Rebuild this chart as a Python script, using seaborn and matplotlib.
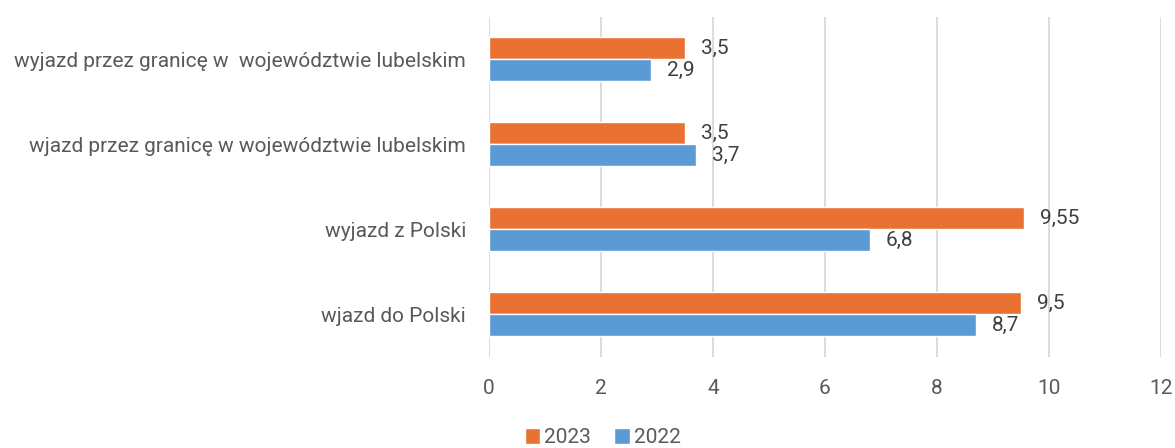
import matplotlib
matplotlib.use("Agg")
import matplotlib.pyplot as plt
import seaborn as sns
import pandas as pd

categories = [
    "wyjazd przez granicę w  województwie lubelskim",
    "wjazd przez granicę w województwie lubelskim",
    "wyjazd z Polski",
    "wjazd do Polski",
]
values_2023 = [3.5, 3.5, 9.55, 9.5]
values_2022 = [2.9, 3.7, 6.8, 8.7]
series = ["2023", "2022"]
x_ticks = [0, 2, 4, 6, 8, 10, 12]

df = pd.DataFrame({
    "kategoria": categories * 2,
    "wartosc": values_2023 + values_2022,
    "rok": [series[0]] * len(categories) + [series[1]] * len(categories),
})

sns.set_theme(style="white")
plt.rcParams["font.family"] = ["Roboto", "DejaVu Sans"]
text_color = "#595959"

fig = plt.figure(figsize=(11.75, 4.48), dpi=100)
ax = fig.add_axes([0.416, 0.204, 0.572, 0.759])

sns.barplot(
    data=df, y="kategoria", x="wartosc", hue="rok", hue_order=series,
    order=categories, orient="h", palette=["#E97132", "#5B9BD5"],
    width=0.52, ax=ax, legend=True, saturation=1,
)

for container in ax.containers:
    vals = container.datavalues
    ax.bar_label(container, labels=[f"{v:g}".replace(".", ",") for v in vals],
                 padding=11.5, fontsize=15, color="#404040")

ax.set_xlim(0, 12)
ax.set_xticks(x_ticks)
ax.set_xticklabels([str(t) for t in x_ticks], fontsize=15, color=text_color)
ax.tick_params(axis="x", length=0, pad=16)
ax.tick_params(axis="y", length=0, pad=16.5, labelsize=15, labelcolor=text_color)
ax.set_xlabel("")
ax.set_ylabel("")
ax.xaxis.grid(True, color="#d9d9d9", linewidth=1.3)
ax.set_axisbelow(True)
for s in ax.spines.values():
    s.set_visible(False)

ax.legend_.remove()
handles, labels = ax.get_legend_handles_labels()
fig.legend(handles, labels, loc="lower center", bbox_to_anchor=(0.513, -0.04), ncol=2,
           frameon=False, fontsize=15, handlelength=0.75, handleheight=0.75,
           handletextpad=0.2, columnspacing=1.1, labelcolor=text_color)

fig.savefig("out.png", dpi=100)
